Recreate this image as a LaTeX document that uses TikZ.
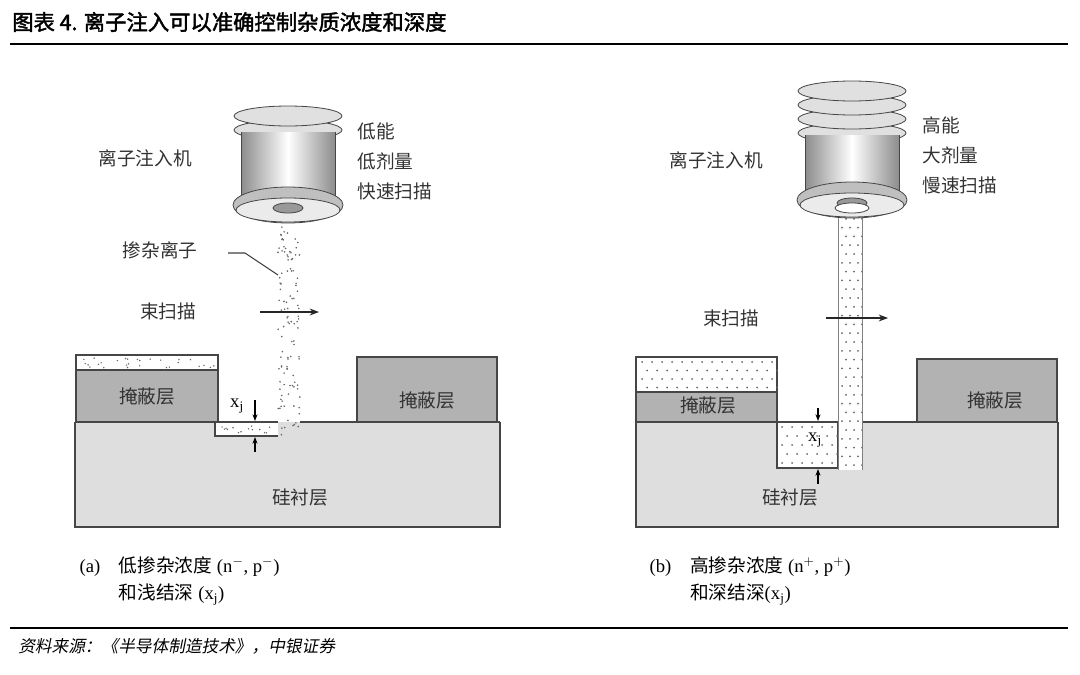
\documentclass[tikz,border=0pt]{standalone}
\usepackage{fontspec}
\setmainfont{Liberation Serif}
\newfontfamily\cjk{Noto Sans CJK SC}
\newfontfamily\cjkb[FakeBold=2]{Noto Sans CJK SC}
\newfontfamily\cjki[FakeSlant=0.2]{Noto Sans CJK SC}
\usetikzlibrary{arrows.meta}

\definecolor{maskgray}{RGB}{178,178,178}
\definecolor{subgray}{RGB}{222,222,222}
\definecolor{edgegray}{RGB}{70,70,70}

\tikzset{
  lbl/.style={font=\cjk\fontsize{14}{22.5}\selectfont, text=black!80, inner sep=1pt},
  captext/.style={font=\fontsize{14}{20}\selectfont, align=left, anchor=west, inner sep=1pt},
  layer/.style={draw=edgegray, line width=0.8pt},
  scanarrow/.style={-{Stealth[length=7pt]}, line width=0.9pt, black!85},
  tickarrow/.style={-{Stealth[length=5pt]}, line width=0.8pt},
  dot/.style={fill=black!60},
}

% one ion source drawn round its own centre line
\newcommand\ionsource[4]{% x, y of body top, number of rings, y of flange
  \foreach \k in {1,...,#3}
    \draw[edgegray, line width=0.6pt, fill=black!12]
      (#1,#2-\k*14+12) ellipse [x radius=54, y radius=10];
  \shade[left color=black!45, right color=black!45, middle color=white]
    (#1-47,#2) rectangle (#1+47,#4);
  \draw[edgegray, line width=0.6pt] (#1-47,#2) -- (#1-47,#4) (#1+47,#2) -- (#1+47,#4);
  \draw[edgegray, line width=0.6pt, fill=black!25] (#1,#4) ellipse [x radius=55, y radius=18];
  \draw[edgegray, line width=0.6pt, fill=black!8] (#1,#4+5) ellipse [x radius=52, y radius=12];
  \draw[edgegray, line width=0.6pt, fill=black!40] (#1,#4+3) ellipse [x radius=15, y radius=5];
}

\begin{document}
\begin{tikzpicture}[x=0.75pt, y=-0.75pt]
\useasboundingbox (0,0) rectangle (1080,674);

% title and rules
\node[anchor=west, font=\cjkb\fontsize{16}{18}\selectfont, inner sep=0pt] (title) at (12,22) {图表 4. 离子注入可以准确控制杂质浓度和深度};
\draw[line width=1.2pt] (10,44) -- (1068,44);
\draw[line width=0.8pt] (10,628) -- (1068,628);
\node[anchor=west, font=\cjki\fontsize{12.5}{14}\selectfont, inner sep=0pt] (source) at (18,646) {资料来源：《半导体制造技术》，中银证券};

% ---------------- (a) ----------------
\fill[subgray] (75,422) rectangle (500,527);
\draw[layer] (75,422) -- (215,422) -- (215,436) -- (278,436);
\draw[layer] (300,422) -- (500,422);
\draw[layer] (75,422) -- (75,527) -- (500,527) -- (500,422);
\fill[white] (216,423) rectangle (278,435);
\draw[layer] (215,422) -- (278,422);
\draw[layer, fill=maskgray] (76,370) rectangle (218,422);
\draw[layer, fill=white] (76,355) rectangle (218,370);
\draw[layer, fill=maskgray] (357,357) rectangle (497,422);
\pgfmathsetseed{7}
\foreach \i in {1,...,28}
  \fill[dot] ({80+136*rnd},{358+10*rnd}) circle (0.8);
\foreach \i in {1,...,14}
  \fill[dot] ({220+56*rnd},{424+10*rnd}) circle (0.8);
\foreach \i in {1,...,110}
  \fill[dot] ({278+22*rnd},{225+210*rnd}) circle (0.9);
\ionsource{288}{132}{2}{205}

\node[lbl] (maskaL) at (147,396) {掩蔽层};
\node[lbl] (maskaR) at (427,400) {掩蔽层};
\node[lbl] (suba) at (300,498) {硅衬层};
\node[lbl] (impa) at (145,158) {离子注入机};
\node[lbl, anchor=west, align=left] (conda) at (356,161) {低能\\低剂量\\快速扫描};
\node[lbl] (iona) at (160,250) {掺杂离子};
\coordinate (iontip) at (278,275);
\draw[line width=0.8pt, black!75] (228,253) -- (245,253) -- (iontip);
\node[lbl] (scana) at (168,311) {束扫描};
\coordinate (scanaS) at (260,312);
\coordinate (scanaE) at (319,312);
\draw[scanarrow] (scanaS) -- (scanaE);
\node[font=\fontsize{14}{15}\selectfont, inner sep=0pt] (xja) at (237,406) {x$_{\mathrm{j}}$};
\coordinate (xjaT) at (255,400);
\coordinate (xjaB) at (255,452);
\draw[tickarrow] (xjaT) -- (255,421);
\draw[tickarrow] (xjaB) -- (255,437);
\node[captext] (capa) at (78,581) {(a)\quad{\cjk 低掺杂浓度} (n$^-$, p$^-$)\\\phantom{(a)\quad}{\cjk 和浅结深} (x$_\mathrm{j}$)};

% ---------------- (b) ----------------
\fill[subgray] (636,422) rectangle (1058,527);
\draw[layer] (636,422) -- (636,527) -- (1058,527) -- (1058,422);
\draw[layer] (636,422) -- (777,422);
\draw[layer] (862,422) -- (1058,422);
\draw[layer, fill=white] (777,422) rectangle (838,468);
\draw[layer, fill=maskgray] (636,392) rectangle (777,422);
\draw[layer, fill=white] (636,357) rectangle (777,392);
\draw[layer, fill=maskgray] (917,359) rectangle (1057,422);
\foreach \i in {0,...,13}
  \foreach \j in {0,...,3}
    \fill[dot] ({642+\i*10+5*mod(\j,2)},{362+\j*8.5}) circle (1);
\foreach \i in {0,...,5}
  \foreach \j in {0,...,4}
    \fill[dot] ({782+\i*10+5*mod(\j,2)},{427+\j*9}) circle (1);
\fill[white] (838,205) rectangle (862,470);
\foreach \j in {0,...,29}
  \foreach \i in {0,1,2}
    \fill[dot] ({842+\i*8+4*mod(\j,2)},{210+\j*8.8}) circle (1);
\draw[line width=0.5pt, black!50] (838,210) -- (838,470) (862,210) -- (862,470);
\ionsource{852}{135}{4}{200}
\draw[edgegray, line width=0.6pt, fill=white] (852,208) ellipse [x radius=17, y radius=5];

\node[lbl] (maskbL) at (708,405) {掩蔽层};
\node[lbl] (maskbR) at (995,400) {掩蔽层};
\node[lbl] (subb) at (790,498) {硅衬层};
\node[lbl] (impb) at (716,160) {离子注入机};
\node[lbl, anchor=west, align=left] (condb) at (921,155) {高能\\大剂量\\慢速扫描};
\node[lbl] (scanb) at (731,318) {束扫描};
\coordinate (scanbS) at (826,318);
\coordinate (scanbE) at (888,318);
\draw[scanarrow] (scanbS) -- (scanbE);
\node[font=\fontsize{14}{15}\selectfont, inner sep=0pt] (xjb) at (815,440) {x$_{\mathrm{j}}$};
\coordinate (xjbT) at (818,408);
\coordinate (xjbB) at (818,484);
\draw[tickarrow] (xjbT) -- (818,421);
\draw[tickarrow] (xjbB) -- (818,469);
\node[captext] (capb) at (648,581) {(b)\quad{\cjk 高掺杂浓度} (n$^+$, p$^+$)\\\phantom{(b)\quad}{\cjk 和深结深}(x$_\mathrm{j}$)};

\end{tikzpicture}
\end{document}
